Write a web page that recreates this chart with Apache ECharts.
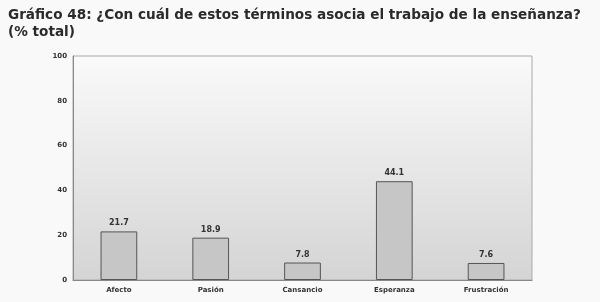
<!DOCTYPE html>
<html><head><meta charset="utf-8">
<script src="https://cdn.jsdelivr.net/npm/echarts@6/dist/echarts.min.js"></script>
<style>html,body{margin:0;padding:0;background:#fff}#c{width:600px;height:302px}</style>
</head><body><div id="c"></div>
<script>
const categories = ['Afecto','Pasión','Cansancio','Esperanza','Frustración'];
const values = [21.7, 18.9, 7.8, 44.1, 7.6];
const yTicks = [0, 20, 40, 60, 80, 100];
const titleText = 'Gráfico 48: ¿Con cuál de estos términos asocia el trabajo de la enseñanza?\n(% total)';

const chart = echarts.init(document.getElementById('c'));
chart.setOption({
  animation: false,
  backgroundColor: '#f9f9f9',
  title: {
    text: titleText, left: 3, top: 2,
    textStyle: {fontFamily: 'DejaVu Sans', fontWeight: 'bold', fontSize: 13.6, color: '#2a2a2a', lineHeight: 17}
  },
  grid: {left: 73, right: 68, top: 56, bottom: 22,
    show: true, borderColor: '#aaa', borderWidth: 1,
    backgroundColor: new echarts.graphic.LinearGradient(0,0,0,1,[{offset:0,color:'#fafafa'},{offset:1,color:'#d4d4d4'}])
  },
  xAxis: {
    type: 'category', data: categories,
    axisLine: {lineStyle: {color: '#888'}}, axisTick: {show: false},
    axisLabel: {fontFamily: 'DejaVu Sans', fontWeight: 'bold', fontSize: 7, color: '#333', margin: 7}
  },
  yAxis: {
    type: 'value', min: 0, max: 100, interval: 20,
    axisLine: {show: true, lineStyle: {color: '#888'}}, axisTick: {show: false},
    splitLine: {show: false},
    axisLabel: {fontFamily: 'DejaVu Sans', fontWeight: 'bold', fontSize: 7, color: '#333', margin: 6,
      formatter: v => yTicks.includes(v) ? String(v) : ''}
  },
  series: [{
    type: 'bar', data: values, barWidth: '40%',
    itemStyle: {color: '#c6c6c6', borderColor: '#555', borderWidth: 1},
    label: {show: true, position: 'top', fontFamily: 'DejaVu Sans', fontWeight: 'bold', fontSize: 8, color: '#333',
      formatter: p => p.value.toFixed(1), distance: 4}
  }]
});
</script></body></html>
